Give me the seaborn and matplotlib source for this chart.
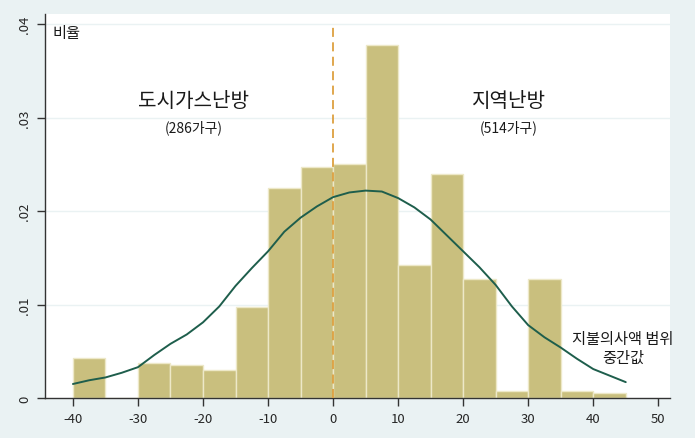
import matplotlib
matplotlib.use("Agg")
import matplotlib.pyplot as plt
import seaborn as sns
import numpy as np
import pandas as pd

# ---- data ----
bin_left = [-40, -35, -30, -25, -20, -15, -10, -5, 0, 5, 10, 15, 20, 25, 30, 35, 40]
bin_width = 5
density = [0.00425, 0.0, 0.00375, 0.0035, 0.0030, 0.00975, 0.0225, 0.02475, 0.0250,
           0.03775, 0.01425, 0.0240, 0.01275, 0.00075, 0.01275, 0.00075, 0.0005]

curve_x = [-40, -37.5, -35, -32.5, -30, -27.5, -25, -22.5, -20, -17.5, -15, -12.5,
           -10, -7.5, -5, -2.5, 0, 2.5, 5, 7.5, 10, 12.5, 15, 17.5, 20, 22.5, 25,
           27.5, 30, 32.5, 35, 37.5, 40, 42.5, 45]
curve_y = [0.0015, 0.0019, 0.0022, 0.0027, 0.0033, 0.0046, 0.0058, 0.0068, 0.0081,
           0.0098, 0.0120, 0.0139, 0.0157, 0.0178, 0.0193, 0.0205, 0.0215, 0.0220,
           0.0222, 0.0221, 0.0214, 0.0204, 0.0191, 0.0174, 0.0157, 0.0140, 0.0121,
           0.0098, 0.0078, 0.0065, 0.0054, 0.0042, 0.0031, 0.0024, 0.0017]

divider_x = 0
x_ticks = [-40, -30, -20, -10, 0, 10, 20, 30, 40, 50]
y_ticks = [0, 0.01, 0.02, 0.03, 0.04]
y_ticklabels = ["0", ".01", ".02", ".03", ".04"]

ylabel = "비율"
left_title, left_sub = "도시가스난방", "(286가구)"
right_title, right_sub = "지역난방", "(514가구)"
note = "지불의사액 범위\n중간값"

# ---- styling ----
sns.set_theme(style="white")
plt.rcParams['font.family'] = ['Noto Sans CJK KR', 'DejaVu Sans']

bg = "#EAF2F3"
bar_color = "#C9BF7E"
line_color = "#1E5E4C"
text_color = "#1a1a1a"

fig = plt.figure(figsize=(6.95, 4.39), dpi=100, facecolor=bg)
ax = fig.add_axes([0.0647, 0.0911, 0.8993, 0.8747])
ax.set_facecolor("white")

df = pd.DataFrame({"left": bin_left, "density": density})
df["center"] = df["left"] + bin_width / 2
edges = list(bin_left) + [bin_left[-1] + bin_width]

sns.histplot(data=df, x="center", weights="density", bins=edges, stat="count",
             color=bar_color, alpha=1, edgecolor="#EDE8C8", linewidth=1.0, ax=ax)

cdf = pd.DataFrame({"x": curve_x, "y": curve_y})
sns.lineplot(data=cdf, x="x", y="y", color=line_color, linewidth=1.4, ax=ax)

ax.axvline(divider_x, ymin=0, ymax=0.9685, color="#DDA040", linestyle=(0, (5, 3)),
           linewidth=1.3, zorder=3)

ax.set_xlim(-44.3, 51.8)
ax.set_ylim(0, 0.0411)
ax.set_xticks(x_ticks)
ax.set_xticklabels([str(t) for t in x_ticks], fontsize=9.5)
ax.set_yticks(y_ticks)
ax.set_yticklabels(y_ticklabels, fontsize=9.5, rotation=90, va="center")
ax.set_xlabel("")
ax.set_ylabel("")
for y in y_ticks[1:]:
    ax.axhline(y, color=bg, linewidth=1.0, zorder=0.5)

ax.tick_params(axis="both", which="both", direction="out", length=6, width=1,
               color="#333333", pad=4, bottom=True, left=True)
for s in ["top", "right"]:
    ax.spines[s].set_visible(False)
for s in ["left", "bottom"]:
    ax.spines[s].set_color("#333333")
    ax.spines[s].set_linewidth(1.0)

ax.text(0.012, 0.975, ylabel, transform=ax.transAxes, fontsize=11, va="top", ha="left",
        color=text_color)
ax.text(-21.5, 0.0318, left_title, fontsize=14.5, ha="center", va="center", color=text_color)
ax.text(-21.5, 0.0290, left_sub, fontsize=10, ha="center", va="center", color=text_color)
ax.text(27, 0.0318, right_title, fontsize=14.5, ha="center", va="center", color=text_color)
ax.text(27, 0.0290, right_sub, fontsize=10, ha="center", va="center", color=text_color)
ax.text(44.6, 0.0054, note, fontsize=11, ha="center", va="center", linespacing=1.15,
        color=text_color)

fig.savefig("out.png", dpi=100, facecolor=bg)
